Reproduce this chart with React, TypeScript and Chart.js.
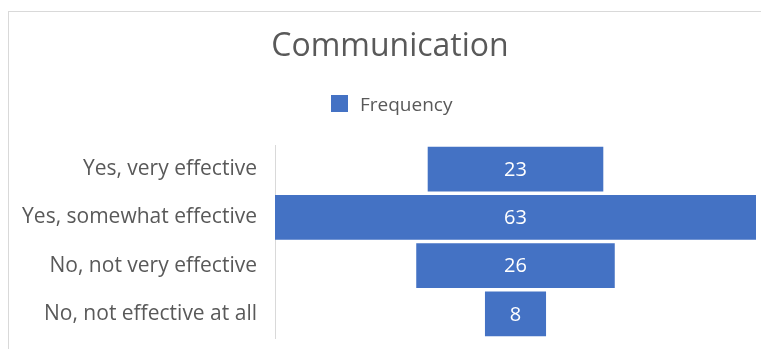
import React, { useEffect, useRef } from "react";
import { Chart, registerables } from "chart.js";

Chart.register(...registerables);

const TITLE = "Communication";
const SERIES_LABEL = "Frequency";
const CATEGORIES = [
  "Yes, very effective",
  "Yes, somewhat effective",
  "No, not very effective",
  "No, not effective at all",
];
const VALUES = [23, 63, 26, 8];

const FONT = "'Open Sans', sans-serif";
const BAR_COLOR = "#4472C4";
const TEXT_COLOR = "#595959";

const headerPlugin = {
  id: "header",
  afterDraw(chart: any) {
    const { ctx } = chart;
    ctx.save();
    ctx.fillStyle = TEXT_COLOR;
    ctx.font = `32px ${FONT}`;
    ctx.textAlign = "center";
    ctx.textBaseline = "alphabetic";
    ctx.fillText(TITLE, 381, 44);
    const label = chart.data.datasets[0].label;
    ctx.fillStyle = BAR_COLOR;
    ctx.fillRect(322, 83, 17, 17);
    ctx.fillStyle = TEXT_COLOR;
    ctx.font = `19px ${FONT}`;
    ctx.textAlign = "left";
    ctx.fillText(label, 351, 99);
    ctx.restore();
  },
};

const valueLabelPlugin = {
  id: "valueLabels",
  afterDatasetsDraw(chart: any) {
    const { ctx } = chart;
    const meta = chart.getDatasetMeta(0);
    ctx.save();
    ctx.fillStyle = "#ffffff";
    ctx.font = `20px ${FONT}`;
    ctx.textAlign = "center";
    ctx.textBaseline = "middle";
    meta.data.forEach((el: any, i: number) => {
      const c = el.getCenterPoint();
      ctx.fillText(String(VALUES[i]), c.x, c.y + 1);
    });
    ctx.restore();
  },
};

export default function App() {
  const ref = useRef<HTMLCanvasElement>(null);
  useEffect(() => {
    if (!ref.current) return;
    const maxV = Math.max(...VALUES);
    const chart = new Chart(ref.current, {
      type: "bar",
      data: {
        labels: CATEGORIES,
        datasets: [
          {
            label: SERIES_LABEL,
            data: VALUES.map((v) => [-v / 2, v / 2]) as any,
            backgroundColor: BAR_COLOR,
            borderWidth: 0,
            barPercentage: 0.93,
            categoryPercentage: 1,
          },
        ],
      },
      options: {
        indexAxis: "y",
        responsive: false,
        animation: false,
        layout: { padding: { top: 133, bottom: 11, right: 5, left: 0 } },
        plugins: {
          legend: { display: false },
          title: { display: false },
          tooltip: { enabled: false },
        },
        scales: {
          x: { display: false, min: -maxV / 2, max: maxV / 2 },
          y: {
            grid: { display: false, drawTicks: false },
            border: { display: true, color: "#d9d9d9", width: 1 },
            ticks: {
              color: TEXT_COLOR,
              padding: 18,
              font: { family: FONT, size: 21 },
            },
            afterFit(scale: any) {
              scale.width = 266;
              scale.paddingTop = 0;
              scale.paddingBottom = 0;
            },
          },
        },
      },
      plugins: [headerPlugin, valueLabelPlugin],
    });
    return () => chart.destroy();
  }, []);
  return (
    <div
      style={{
        position: "fixed",
        left: 8,
        top: 11,
        width: 753,
        height: 338,
        boxSizing: "border-box",
        borderTop: "1px solid #d9d9d9",
        borderLeft: "1px solid #d9d9d9",
        background: "#fff",
      }}
    >
      <canvas ref={ref} width={752} height={337} style={{ display: "block", width: 752, height: 337 }} />
    </div>
  );
}
